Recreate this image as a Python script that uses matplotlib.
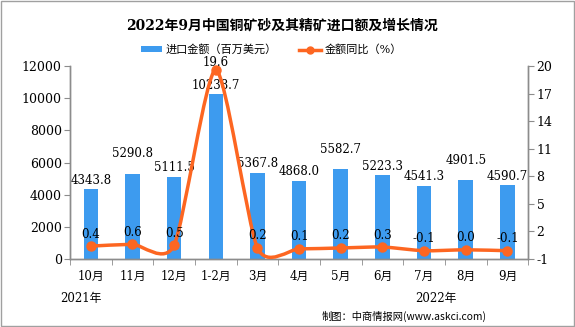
import matplotlib
matplotlib.use("Agg")
import matplotlib.pyplot as plt
from matplotlib.path import Path
from matplotlib.patches import PathPatch, Rectangle
from matplotlib.lines import Line2D
from matplotlib.patches import Patch
import numpy as np

plt.rcParams['font.family'] = ['DejaVu Serif', 'Noto Sans CJK SC']

categories = ['10月', '11月', '12月', '1-2月', '3月', '4月', '5月', '6月', '7月', '8月', '9月']
import_value = [4343.8, 5290.8, 5111.5, 10238.7, 5367.8, 4868.0, 5582.7, 5223.3, 4541.3, 4901.5, 4590.7]
yoy = [0.4, 0.6, 0.5, 19.6, 0.2, 0.1, 0.2, 0.3, -0.1, 0.0, -0.1]
left_ticks = [0, 2000, 4000, 6000, 8000, 10000, 12000]
right_ticks = [-1, 2, 5, 8, 11, 14, 17, 20]

title = '2022年9月中国铜矿砂及其精矿进口额及增长情况'
bar_name = '进口金额（百万美元）'
line_name = '金额同比（%）'
credit = '制图：中商情报网(www.askci.com)'

BAR = '#3d9bef'
LINE = '#fd6621'
GRID = '#8c8c8c'

fig = plt.figure(figsize=(5.75, 3.27), dpi=100)
ax = fig.add_axes([0.1217, 0.208, 0.797, 0.59])
ax2 = ax.twinx()

x = np.arange(len(categories))
ax.bar(x, import_value, width=0.35, color=BAR, zorder=2)
ax.set_xlim(-0.5, len(categories) - 0.5)
ax.set_ylim(0, 12000)
ax.set_yticks(left_ticks)
ax.set_yticklabels([str(t) for t in left_ticks], fontsize=9)
ax.set_xticks(x)
ax.set_xticklabels(categories, fontsize=8.5)
ax.set_xticks(np.arange(-0.5, len(categories), 1), minor=True)
ax.tick_params(axis='x', which='major', length=0, pad=8)
ax.tick_params(axis='x', which='minor', length=4, color=GRID, direction='out')
ax.tick_params(axis='y', length=4, color=GRID, direction='out', pad=2)

ax2.set_ylim(-1, 20)
ax2.set_yticks(right_ticks)
ax2.set_yticklabels([str(t) for t in right_ticks], fontsize=9)
ax2.tick_params(axis='y', length=4, color=GRID, direction='out', pad=2)

for a in (ax, ax2):
    a.spines['top'].set_visible(False)
    for s in ('left', 'right', 'bottom'):
        a.spines[s].set_color(GRID)
        a.spines[s].set_linewidth(1)

# smoothed line (Excel-style bezier) drawn through the data points
k = 0.115
pts = list(zip(x.astype(float), yoy))
verts = [pts[0]]
codes = [Path.MOVETO]
n = len(pts)
for i in range(n - 1):
    p0 = pts[i - 1] if i > 0 else pts[i]
    p1 = pts[i]
    p2 = pts[i + 1]
    p3 = pts[i + 2] if i + 2 < n else pts[i + 1]
    c1 = (p1[0] + (p2[0] - p0[0]) * k, p1[1] + (p2[1] - p0[1]) * k)
    c2 = (p2[0] - (p3[0] - p1[0]) * k, p2[1] - (p3[1] - p1[1]) * k)
    verts += [c1, c2, p2]
    codes += [Path.CURVE4] * 3
ax2.add_patch(PathPatch(Path(verts, codes), facecolor='none', edgecolor=LINE, lw=2.5,
                        zorder=3, capstyle='round', clip_on=False))
ax2.plot(x, yoy, linestyle='none', marker='o', ms=6.5, color=LINE, zorder=4, clip_on=False)

raised = {1, 6, 9}
for i, v in enumerate(import_value):
    off = 20 if i in raised else 9
    ax.annotate(f'{v:.1f}', (x[i], v), xytext=(0, off), textcoords='offset pixels',
                ha='center', va='center', fontsize=8.5, zorder=5)
px_per_unit = 0.59 * 327 / 21
for i, v in enumerate(yoy):
    off = min(12, (20 - v) * px_per_unit + 4)
    ax2.annotate(f'{v:.1f}', (x[i], v), xytext=(0, off), textcoords='offset pixels',
                 ha='center', va='center', fontsize=8.5, zorder=5)

fig.text(0.49, 0.923, title, ha='center', va='center', fontsize=10, fontweight='bold')

handles = [Patch(facecolor=BAR, edgecolor='none'),
           Line2D([0], [0], color=LINE, lw=2.5, marker='o', ms=5)]
fig.legend(handles, [bar_name, line_name], loc='center', bbox_to_anchor=(0.472, 0.848),
           ncol=2, frameon=False, fontsize=8, handlelength=1.9, handleheight=0.45,
           columnspacing=2.0, handletextpad=0.35, borderpad=0.2)

fig.text(0.104, 0.086, '2021年', ha='left', va='center', fontsize=8.5)
fig.text(0.722, 0.086, '2022年', ha='left', va='center', fontsize=8.5)
fig.text(0.56, 0.033, credit, ha='left', va='center', fontsize=7.4,
         family=['Noto Sans CJK SC', 'DejaVu Sans'])

fig.patches.append(Rectangle((0.001, 0.003), 0.997, 0.994, transform=fig.transFigure,
                             fill=False, edgecolor='#a0a0a0', lw=1))

fig.savefig('out.png', dpi=100)
